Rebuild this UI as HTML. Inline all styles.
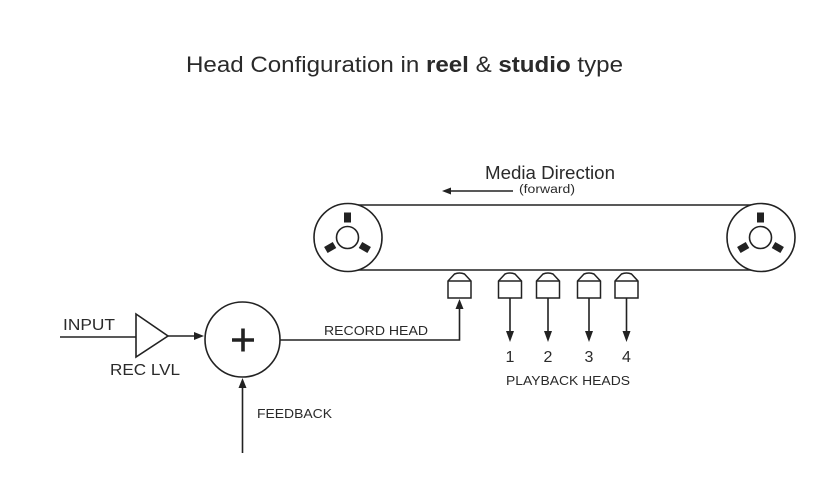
<!DOCTYPE html>
<html>
<head>
<meta charset="utf-8">
<style>
  html, body { margin: 0; padding: 0; background: #ffffff; }
  body { width: 840px; height: 504px; overflow: hidden; }
  svg { display: block; }
  text { font-family: "Liberation Sans", "DejaVu Sans", sans-serif; fill: #2a2a2a; }
</style>
</head>
<body>
<svg width="840" height="504" viewBox="0 0 840 504" xmlns="http://www.w3.org/2000/svg">

  <!-- Title -->
  <text x="186" y="72" font-size="22" textLength="437" lengthAdjust="spacingAndGlyphs" fill="#333">Head Configuration in <tspan font-weight="bold">reel</tspan> &amp; <tspan font-weight="bold">studio</tspan> type</text>

  <!-- Media direction -->
  <text x="485" y="179" font-size="18" textLength="130" lengthAdjust="spacingAndGlyphs" fill="#333">Media Direction</text>
  <text x="519" y="193" font-size="11.5" textLength="56" lengthAdjust="spacingAndGlyphs" fill="#333">(forward)</text>
  <line x1="513" y1="191" x2="449" y2="191" stroke="#222" stroke-width="1.6"/>
  <path d="M442,191 L451,187.5 L451,194.5 Z" fill="#222"/>

  <!-- Belt -->
  <g stroke="#222" stroke-width="1.6" fill="none">
    <line x1="348" y1="205" x2="761" y2="205"/>
    <line x1="348" y1="270" x2="761" y2="270"/>
    <circle cx="348" cy="237.5" r="34" fill="#fff"/>
    <circle cx="761" cy="237.5" r="34" fill="#fff"/>
    <circle cx="347.5" cy="237.5" r="11"/>
    <circle cx="760.5" cy="237.5" r="11"/>
  </g>
  <!-- Spokes -->
  <g fill="#222">
    <g transform="translate(347.5,237.5)">
      <rect x="-3.5" y="-25" width="7" height="10"/>
      <rect x="-3.5" y="-25" width="7" height="10" transform="rotate(120)"/>
      <rect x="-3.5" y="-25" width="7" height="10" transform="rotate(240)"/>
    </g>
    <g transform="translate(760.5,237.5)">
      <rect x="-3.5" y="-25" width="7" height="10"/>
      <rect x="-3.5" y="-25" width="7" height="10" transform="rotate(120)"/>
      <rect x="-3.5" y="-25" width="7" height="10" transform="rotate(240)"/>
    </g>
  </g>

  <!-- Heads -->
  <g stroke="#222" stroke-width="1.5" fill="#fff">
    <g transform="translate(459.5,0)">
      <path d="M-11.5,298 L-11.5,281 L-5,274 Q0,272 5,274 L11.5,281 L11.5,298 Z"/>
      <line x1="-11.5" y1="281" x2="11.5" y2="281"/>
    </g>
    <g transform="translate(510,0)">
      <path d="M-11.5,298 L-11.5,281 L-5,274 Q0,272 5,274 L11.5,281 L11.5,298 Z"/>
      <line x1="-11.5" y1="281" x2="11.5" y2="281"/>
    </g>
    <g transform="translate(548,0)">
      <path d="M-11.5,298 L-11.5,281 L-5,274 Q0,272 5,274 L11.5,281 L11.5,298 Z"/>
      <line x1="-11.5" y1="281" x2="11.5" y2="281"/>
    </g>
    <g transform="translate(589,0)">
      <path d="M-11.5,298 L-11.5,281 L-5,274 Q0,272 5,274 L11.5,281 L11.5,298 Z"/>
      <line x1="-11.5" y1="281" x2="11.5" y2="281"/>
    </g>
    <g transform="translate(626.5,0)">
      <path d="M-11.5,298 L-11.5,281 L-5,274 Q0,272 5,274 L11.5,281 L11.5,298 Z"/>
      <line x1="-11.5" y1="281" x2="11.5" y2="281"/>
    </g>
  </g>

  <!-- Playback arrows -->
  <g stroke="#222" stroke-width="1.6">
    <line x1="510" y1="298" x2="510" y2="333"/>
    <line x1="548" y1="298" x2="548" y2="333"/>
    <line x1="589" y1="298" x2="589" y2="333"/>
    <line x1="626.5" y1="298" x2="626.5" y2="333"/>
  </g>
  <g fill="#222">
    <path d="M506,331 L514,331 L510,342 Z"/>
    <path d="M544,331 L552,331 L548,342 Z"/>
    <path d="M585,331 L593,331 L589,342 Z"/>
    <path d="M622.5,331 L630.5,331 L626.5,342 Z"/>
  </g>
  <g font-size="16" text-anchor="middle" fill="#333">
    <text x="510" y="362">1</text>
    <text x="548" y="362">2</text>
    <text x="589" y="362">3</text>
    <text x="626.5" y="362">4</text>
  </g>
  <text x="506" y="385" font-size="13" textLength="124" lengthAdjust="spacingAndGlyphs" fill="#333">PLAYBACK HEADS</text>

  <!-- Record path -->
  <polyline points="280,340 459.5,340 459.5,308" fill="none" stroke="#222" stroke-width="1.6"/>
  <path d="M455.5,309 L463.5,309 L459.5,299 Z" fill="#222"/>
  <text x="324" y="335" font-size="13" textLength="104" lengthAdjust="spacingAndGlyphs" fill="#333">RECORD HEAD</text>

  <!-- Input / amp -->
  <text x="63" y="330" font-size="16" textLength="52" lengthAdjust="spacingAndGlyphs" fill="#333">INPUT</text>
  <line x1="60" y1="337" x2="136" y2="337" stroke="#222" stroke-width="1.6"/>
  <path d="M136,314 L168,336 L136,357 Z" fill="#fff" stroke="#222" stroke-width="1.6"/>
  <line x1="168" y1="336" x2="195" y2="336" stroke="#222" stroke-width="1.6"/>
  <path d="M194,332 L204,336 L194,340 Z" fill="#222"/>
  <text x="110" y="375" font-size="16" textLength="70" lengthAdjust="spacingAndGlyphs" fill="#333">REC LVL</text>

  <!-- Summing node -->
  <circle cx="242.5" cy="339.5" r="37.5" fill="#fff" stroke="#222" stroke-width="1.6"/>
  <line x1="232" y1="340" x2="254" y2="340" stroke="#222" stroke-width="3.6"/>
  <line x1="243" y1="328.5" x2="243" y2="351.5" stroke="#222" stroke-width="3.6"/>

  <!-- Feedback -->
  <line x1="242.5" y1="453" x2="242.5" y2="387" stroke="#222" stroke-width="1.6"/>
  <path d="M238.5,388 L246.5,388 L242.5,378 Z" fill="#222"/>
  <text x="257" y="418" font-size="13" textLength="75" lengthAdjust="spacingAndGlyphs" fill="#333">FEEDBACK</text>
</svg>
</body>
</html>
